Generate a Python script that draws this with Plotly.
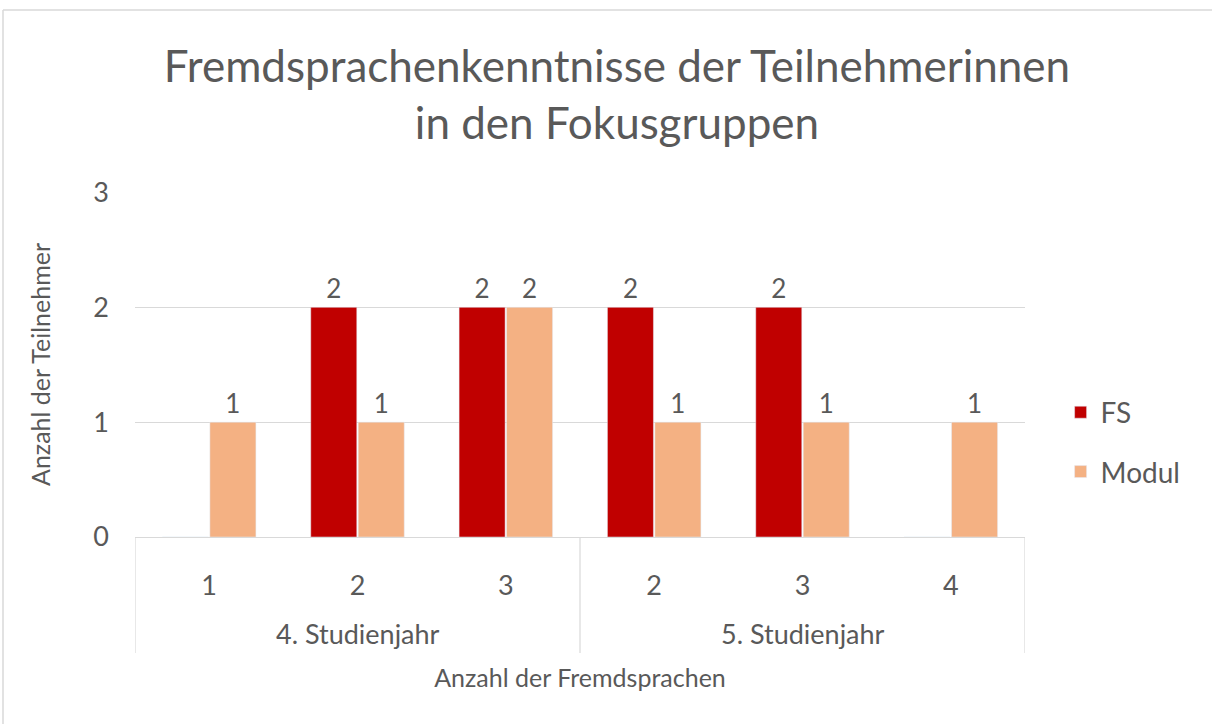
import plotly.graph_objects as go

groups = ["4. Studienjahr", "5. Studienjahr"]
group_members = [[0, 1, 2], [3, 4, 5]]
languages = ["1", "2", "3", "2", "3", "4"]
fs_values = [0, 2, 2, 2, 2, 0]
modul_values = [1, 1, 2, 1, 1, 1]
y_ticks = [0, 1, 2, 3]

FONT = "Lato"
GRAY = "#595959"
LINE = "#D9D9D9"

L, R, T, B = 135, 187, 192, 187
W, H = 1212, 724
pw, ph = W - L - R, H - T - B

def px_x(px):
    return (px - L) / pw

def px_y(py):
    return (H - B - py) / ph

xpos = list(range(len(languages)))

fig = go.Figure()
fig.add_trace(go.Bar(
    name="FS", x=xpos, y=fs_values,
    marker_color="#C00000",
    text=[str(v) if v else "" for v in fs_values],
    textposition="outside", textfont=dict(size=26, color=GRAY, family=FONT),
    cliponaxis=False, legendgroup="a",
))
fig.add_trace(go.Bar(
    name="Modul", x=xpos, y=modul_values,
    marker_color="#F4B183",
    text=[str(v) if v else "" for v in modul_values],
    textposition="outside", textfont=dict(size=26, color=GRAY, family=FONT),
    cliponaxis=False, legendgroup="b",
))

annotations = []
shapes = [
    dict(type="line", xref="paper", yref="paper", x0=px_x(3), x1=px_x(1212), y0=px_y(10), y1=px_y(10),
         line=dict(color=LINE, width=1.5)),
    dict(type="line", xref="paper", yref="paper", x0=px_x(3), x1=px_x(3), y0=px_y(10), y1=px_y(724),
         line=dict(color=LINE, width=1.5)),
]
for name, members in zip(groups, group_members):
    annotations.append(dict(
        text=name, x=sum(members) / len(members), xref="x", y=px_y(633), yref="paper",
        showarrow=False, xanchor="center", yanchor="middle",
        font=dict(size=27, color=GRAY, family=FONT),
    ))
boundaries = [group_members[0][0] - 0.5] + [m[-1] + 0.5 for m in group_members]
for bx in boundaries:
    shapes.append(dict(type="line", xref="x", yref="paper", x0=bx, x1=bx, y0=0, y1=px_y(653),
                       line=dict(color=LINE, width=1.2)))

fig.update_layout(
    width=W, height=H,
    margin=dict(l=L, r=R, t=T, b=B),
    paper_bgcolor="white", plot_bgcolor="white",
    font=dict(family=FONT, color=GRAY),
    title=dict(
        text="Fremdsprachenkenntnisse der Teilnehmerinnen<br>in den Fokusgruppen",
        x=0.5 + 11 / W, xanchor="center", y=(H - 82) / H, yanchor="middle",
        font=dict(size=44, color=GRAY, family=FONT),
    ),
    barmode="group", bargap=0.36, bargroupgap=0.03,
    legend=dict(
        x=1.04, xanchor="left", y=px_y(442), yanchor="middle",
        font=dict(size=28, color=GRAY, family=FONT),
        tracegroupgap=20, itemwidth=30,
    ),
    xaxis=dict(
        range=[-0.5, len(languages) - 0.5], tickvals=xpos, ticktext=languages,
        showline=True, linecolor=LINE, linewidth=1, zeroline=False,
        tickfont=dict(size=27, color=GRAY, family=FONT),
        ticks="", showgrid=False, ticklabelstandoff=25,
        title=dict(text="Anzahl der Fremdsprachen", font=dict(size=25, color=GRAY, family=FONT), standoff=69),
    ),
    yaxis=dict(
        range=[0, 3.004], tickvals=y_ticks, ticktext=[str(v) for v in y_ticks],
        showgrid=True, gridcolor=LINE, gridwidth=1,
        zeroline=False, ticks="", ticklabelstandoff=25,
        tickfont=dict(size=27, color=GRAY, family=FONT),
        title=dict(text="Anzahl der Teilnehmer", font=dict(size=25, color=GRAY, family=FONT), standoff=35),
    ),
    annotations=annotations,
    shapes=shapes,
)

fig.write_html("out.html", post_script="document.body.style.margin='0';",
               config={"displayModeBar": False})
